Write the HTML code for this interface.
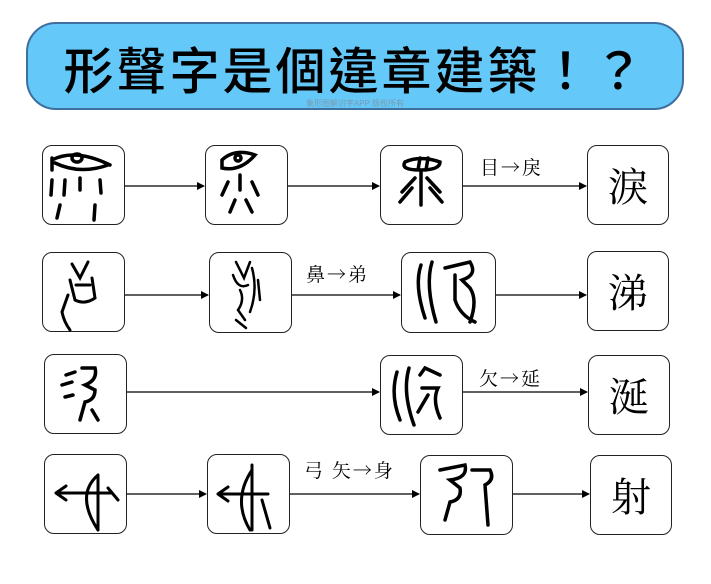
<!DOCTYPE html>
<html><head><meta charset="utf-8"><style>
body{margin:0;width:711px;height:584px;background:#fff;position:relative;overflow:hidden;font-family:"Liberation Serif","Noto Serif CJK SC",serif}
.title{position:absolute;left:26px;top:22px;width:654px;height:84px;border:2px solid #3f6f9f;border-radius:30px;background:#64c8f8}
.title .t{position:absolute;left:0;right:0;top:8px;text-align:center;font:500 50px "Noto Sans CJK TC",sans-serif;letter-spacing:3px;color:#000}
.title .w{position:absolute;left:0;right:0;top:74px;text-align:center;font:8px "Liberation Sans","Noto Sans CJK SC",sans-serif;color:#7a9ab0}
.b{position:absolute;border:1.5px solid #222;border-radius:10px;background:#fff;box-sizing:border-box}
.m{font-size:40px;text-align:center;line-height:78px;font-family:"Noto Serif CJK SC",serif}
.lab{position:absolute;font-size:19px;font-family:"Noto Serif CJK SC",serif;letter-spacing:2px}
svg.a{position:absolute;left:0;top:0}
</style></head><body>
<div class="title"><div class="t">形聲字是個違章建築！？</div><div class="w">象形图解识字APP 版权所有</div></div>
<svg class="a" width="711" height="584" fill="none" stroke="#000">
<defs><marker id="h" markerWidth="8" markerHeight="8" refX="7" refY="4" orient="auto" markerUnits="userSpaceOnUse"><path d="M0,0L8,4L0,8z" fill="#000" stroke="none"/></marker></defs>
<g stroke-width="1.2" marker-end="url(#h)">
<line x1="124" y1="186" x2="204" y2="186"/><line x1="287" y1="186" x2="379" y2="186"/><line x1="462" y1="186" x2="586" y2="186"/>
<line x1="124" y1="295" x2="208" y2="295"/><line x1="291" y1="295" x2="400" y2="295"/><line x1="495" y1="295" x2="586" y2="295"/>
<line x1="126" y1="392" x2="379" y2="392"/><line x1="462" y1="392" x2="587" y2="392"/>
<line x1="126" y1="494" x2="206" y2="494"/><line x1="289" y1="494" x2="419" y2="494"/><line x1="512" y1="494" x2="589" y2="494"/>
</g>
</svg>
<div class="b" style="left:42px;top:145px;width:83px;height:80px"></div>
<div class="b" style="left:205px;top:145px;width:83px;height:80px"></div>
<div class="b" style="left:380px;top:145px;width:83px;height:80px"></div>
<div class="b m" style="left:587px;top:145px;width:82px;height:80px">淚</div>
<div class="b" style="left:42px;top:252px;width:83px;height:80px"></div>
<div class="b" style="left:209px;top:252px;width:83px;height:81px"></div>
<div class="b" style="left:401px;top:252px;width:95px;height:81px"></div>
<div class="b m" style="left:587px;top:251px;width:82px;height:80px">涕</div>
<div class="b" style="left:44px;top:354px;width:83px;height:80px"></div>
<div class="b" style="left:380px;top:355px;width:83px;height:80px"></div>
<div class="b m" style="left:588px;top:355px;width:82px;height:80px">涎</div>
<div class="b" style="left:44px;top:454px;width:83px;height:80px"></div>
<div class="b" style="left:207px;top:454px;width:83px;height:80px"></div>
<div class="b" style="left:420px;top:455px;width:93px;height:80px"></div>
<div class="b m" style="left:590px;top:455px;width:82px;height:80px">射</div>
<svg class="a" width="711" height="584" fill="none" stroke="#000" stroke-width="3.5" stroke-linecap="round">
<path d="M52,160 Q75,148 110,165 M55,163 Q80,175 108,165 M72,158 a5,4 0 1,0 10,0 a5,4 0 1,0 -10,0 M52,158 L52,170"/>
<path d="M52,180 L51,195 M65,180 L64,195 M80,178 L80,190 M100,180 L101,193 M60,205 L57,218 M95,205 L94,220"/>
<path d="M222,160 Q235,148 255,155 Q240,172 222,168 Z M235,158 a3,3 0 1,0 6,0 a3,3 0 1,0 -6,0 M240,175 L240,190 M228,182 L222,195 M252,182 L258,195 M235,200 L230,212 M246,200 L252,212"/>
<path d="M405,162 Q420,155 440,162 Q440,170 420,170 Q400,170 405,162 M420,158 L418,170 M428,158 L426,170 M421,170 L421,205 M415,178 L402,192 M427,178 L440,192 M412,188 L400,202 M430,188 L442,202"/>
<path stroke-width="3" d="M72,264 L80,278 L88,262 M70,280 L75,300 Q85,305 95,298 L92,278 M76,285 L90,285 M68,295 L62,312 Q64,322 70,330"/>
<path stroke-width="2.5" d="M236,262 L244,278 L250,262 M233,275 Q238,290 248,285 M240,290 Q245,300 238,310 L245,320 M252,268 Q258,290 250,312 M258,280 L260,300 M236,320 L246,328"/>
<path d="M421,265 Q414,285 425,318 M432,262 Q425,285 436,322 M445,268 L470,262 Q478,275 462,280 L470,288 Q478,300 470,322 M455,275 L455,300 Q460,315 475,322"/>
<path d="M66,375 L75,372 M62,385 L72,382 M65,397 L73,395 M82,368 L95,368 Q98,380 85,385 L95,390 Q95,400 85,402 L80,420 M92,410 L98,420"/>
<path d="M397,372 Q390,395 400,420 M409,368 Q402,392 414,425 M420,375 L425,368 L440,375 M422,388 L438,388 Q432,400 440,418 M428,395 L418,412"/>
<path stroke-width="3" d="M56,493 L112,493 M56,493 L66,486 M56,493 L66,500 M98,475 L98,530 M98,475 Q75,495 98,530 M108,488 L118,500"/>
<path stroke-width="3" d="M218,494 L268,494 M218,494 L228,487 M218,494 L228,501 M252,465 L252,530 M252,470 Q232,500 250,530 M262,500 L270,528"/>
<path d="M440,470 L465,465 Q468,478 450,480 L460,488 Q462,500 450,502 L445,520 M472,470 L490,470 Q495,480 485,485 L488,525"/>
</svg>
<div class="lab" style="left:480px;top:153px">目→戾</div>
<div class="lab" style="left:306px;top:260px">鼻→弟</div>
<div class="lab" style="left:479px;top:364px">欠→延</div>
<div class="lab" style="left:304px;top:456px">弓 矢→身</div>
</body></html>
